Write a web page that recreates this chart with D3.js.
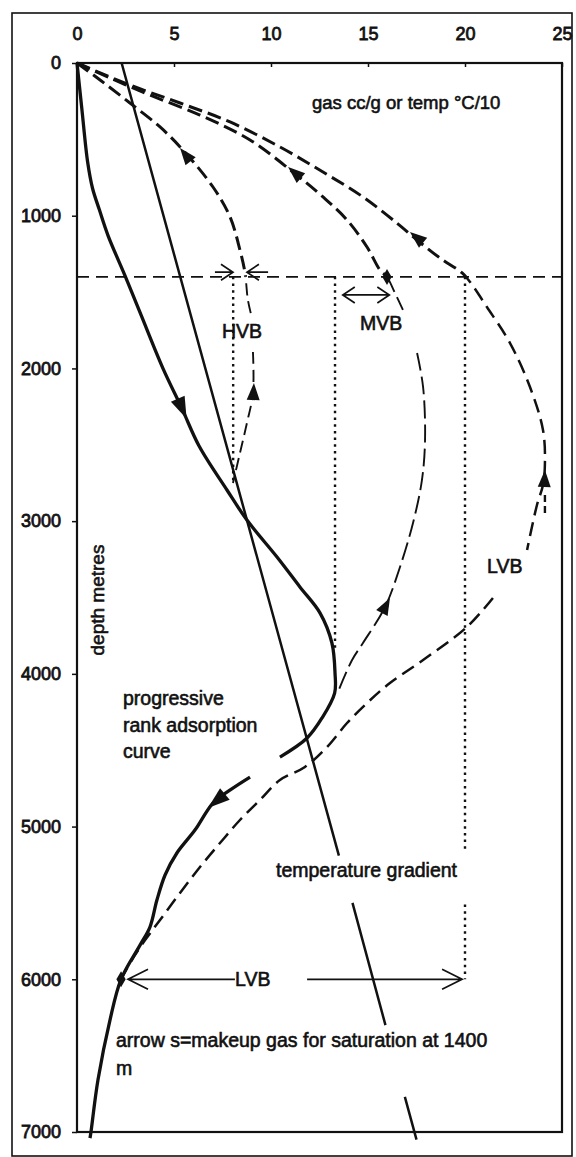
<!DOCTYPE html>
<html><head><meta charset="utf-8">
<script src="https://cdn.jsdelivr.net/npm/d3@7"></script>
<style>
body{margin:0;background:#fff}
svg{display:block}
text{font-family:"Liberation Sans",Arial,Helvetica,sans-serif;fill:#111}
</style>
</head><body>
<script>
// ---------- data (value = gas cc/g or temp °C/10, depth in metres) ----------
const xTicks = [0, 5, 10, 15, 20, 25];
const yTicks = [0, 1000, 2000, 3000, 4000, 5000, 6000, 7000];

const adsorptionUpper = [[0,0],[0.25,300],[0.55,650],[0.8,820],[1.15,960],[1.6,1130],[2.5,1400],[3.3,1650],[4.43,2000],[5.4,2260],[6.3,2510],[7.73,2796],[8.76,2993],[10.31,3235],[11.49,3431],[12.53,3602],[13.14,3798],[13.30,3995],[13.28,4126],[12.63,4289],[11.86,4420],[10.46,4545]];
const adsorptionLower = [[8.92,4676],[7.9,4760],[7.01,4846],[6.08,5023],[5.15,5173],[4.54,5317],[4.12,5481],[3.76,5658],[3.25,5776],[2.27,6000],[1.70,6267],[1.08,6660],[0.72,7000],[0.67,7040]];

const temperatureGradient = [[2.3,0],[13.5,5190],[null,null],[14.2,5500],[15.9,6300],[null,null],[16.9,6770],[17.5,7050]];

const hvbGas = [[0,0],[1.19,111],[2.73,262],[4.28,419],[5.46,570],[7.01,812],[7.89,1008],[8.40,1225],[8.66,1375],[8.81,1552],[9.02,1670],[null,null],[9.07,1892],[9.07,2161],[8.76,2357],[8.40,2554],[8.04,2750]];
const mvbGas = [[0,0],[1.70,98],[3.76,210],[6.34,341],[8.92,504],[11.13,714],[12.68,877],[13.92,1028],[14.95,1205],[15.62,1356],[15.98,1401],[16.39,1506],[16.80,1617],[null,null],[17.53,1899],[17.84,2122],[17.94,2469],[17.78,2731],[17.32,3012],[16.65,3300],[15.88,3562],[14.74,3798],[14.18,3909],[13.45,4119]];
const lvbGas = [[0,0],[2.73,144],[5.31,262],[7.89,386],[10.46,550],[12.68,714],[14.74,877],[16.49,1048],[17.53,1159],[18.71,1277],[19.85,1375],[20.26,1434],[21.13,1598],[22.32,1834],[23.35,2122],[24.02,2403],[24.12,2619],[24.02,2763],[23.71,2894],[23.20,3189],[null,null],[21.44,3503],[20.10,3693],[17.84,3909],[16.13,4060],[14.95,4191],[13.92,4322],[12.89,4479],[11.75,4610],[10.46,4695],[9.43,4826],[8.40,4957],[7.37,5108],[6.34,5265],[5.31,5435],[4.28,5612],[3.51,5743],[2.89,5861],[2.27,6000]];
const lvbTail = [[24.12,2829],[24.12,2973]];

const saturationDepth = 1400;
// dotted make-up lines: [value, topDepth, bottomDepth]
const makeupLines = [[8.05,1400,2750],[13.3,1400,3830],[20.0,1400,5170],[20.0,5510,6000]];

// filled arrow heads: [tipValue, tipDepth, fromValue, fromDepth]
const gasArrows = [[5.31,556,6.34,720],[10.88,681,12.01,805],[17.16,1107,18.3,1225],[9.12,2096,9.07,2240],[16.13,3503,15.52,3648],[24.12,2665,24.07,2829]];
const adsorptionArrows = [[5.65,2330,5.2,2200],[6.75,4879,7.99,4748]];
// diamonds [value, depth]
const diamonds = [[15.98,1401],[2.27,6000]];
// open-headed span arrows: [fromValue, toValue, depth, headAtFrom, headAtTo]
const spanArrows = [[7.11,8.04,1370,0,1],[9.85,8.76,1370,0,1],[13.7,16.1,1519,1,1],[2.63,8.14,6000,1,0],[11.86,19.85,6000,0,1]];

// ---------- chart ----------
const W = 576, H = 1157;
const x = d3.scaleLinear().domain([0,25]).range([77,562]);
const y = d3.scaleLinear().domain([0,7000]).range([63,1132]);
const ink = "#111";

const svg = d3.select("body").append("svg").attr("width",W).attr("height",H);
svg.append("rect").attr("width",W).attr("height",H).attr("fill","#fff");

const defs = svg.append("defs");
defs.append("clipPath").attr("id","above").append("rect")
  .attr("x",0).attr("y",0).attr("width",W).attr("height",y(saturationDepth));
defs.append("clipPath").attr("id","below").append("rect")
  .attr("x",0).attr("y",y(saturationDepth)).attr("width",W).attr("height",H);

// outer border
svg.append("rect").attr("x",12).attr("y",13).attr("width",560).attr("height",1143)
  .attr("fill","none").attr("stroke",ink).attr("stroke-width",1.6);

// axes
const xAxis = d3.axisTop(x).tickValues(xTicks).tickSizeInner(-4).tickSizeOuter(0).tickPadding(23).tickFormat(d3.format("d"));
const gx = svg.append("g").attr("transform",`translate(0,${y(0)})`).call(xAxis);
gx.select(".domain").remove();
gx.selectAll("line").attr("stroke",ink).attr("stroke-width",1.5);
gx.selectAll("text").attr("font-size",18).attr("fill",ink).attr("stroke",ink).attr("stroke-width",0.8)
  .style("font-family","'Liberation Sans',Arial,sans-serif");

const yAxis = d3.axisLeft(y).tickValues(yTicks).tickSizeInner(5).tickSizeOuter(0).tickPadding(11).tickFormat(d3.format("d"));
const gy = svg.append("g").attr("transform",`translate(${x(0)},0)`).call(yAxis);
gy.select(".domain").remove();
gy.selectAll("line").attr("stroke",ink).attr("stroke-width",1.5);
gy.selectAll("text").attr("font-size",18).attr("fill",ink).attr("stroke",ink).attr("stroke-width",0.8)
  .style("font-family","'Liberation Sans',Arial,sans-serif");

// plot frame
svg.append("rect").attr("x",x(0)).attr("y",y(0)).attr("width",x(25)-x(0)).attr("height",y(7000)-y(0))
  .attr("fill","none").attr("stroke",ink).attr("stroke-width",2.2);

const line = d3.line().defined(d=>d[0]!=null).x(d=>x(d[0])).y(d=>y(d[1])).curve(d3.curveCatmullRom.alpha(0.5));
const straight = d3.line().defined(d=>d[0]!=null).x(d=>x(d[0])).y(d=>y(d[1]));

// horizontal saturation line
svg.append("line").attr("x1",x(0)).attr("x2",x(25)).attr("y1",y(saturationDepth)).attr("y2",y(saturationDepth))
  .attr("stroke",ink).attr("stroke-width",1.8).attr("stroke-dasharray","12,7");

// dotted make-up verticals
svg.selectAll(".dot").data(makeupLines).join("line")
  .attr("x1",d=>x(d[0])).attr("x2",d=>x(d[0])).attr("y1",d=>y(d[1])).attr("y2",d=>y(d[2]))
  .attr("stroke",ink).attr("stroke-width",2.4).attr("stroke-dasharray","2.5,4.2");

// gas curves
function gas(data, upperW, lowerW, lowerDash){
  svg.append("path").datum(data).attr("d",line).attr("fill","none").attr("stroke",ink)
    .attr("stroke-width",upperW).attr("stroke-dasharray","14,6").attr("clip-path","url(#above)");
  svg.append("path").datum(data).attr("d",line).attr("fill","none").attr("stroke",ink)
    .attr("stroke-width",lowerW).attr("stroke-dasharray",lowerDash).attr("clip-path","url(#below)");
}
gas(hvbGas, 3, 1.9, "12,6");
gas(mvbGas, 3, 1.9, "18,6");
gas(lvbGas, 3, 2.5, "14,7");
svg.append("path").datum(lvbTail).attr("d",straight).attr("fill","none").attr("stroke",ink)
  .attr("stroke-width",2.4).attr("stroke-dasharray","7,4");

// temperature gradient
svg.append("path").datum(temperatureGradient).attr("d",straight).attr("fill","none")
  .attr("stroke",ink).attr("stroke-width",2.5);

// adsorption curve
[adsorptionUpper, adsorptionLower].forEach(seg=>{
  svg.append("path").datum(seg).attr("d",line).attr("fill","none").attr("stroke",ink)
    .attr("stroke-width",3.3).attr("stroke-linejoin","round");
});

// arrow heads
function tri(a, len, wid){
  const tx=x(a[0]), ty=y(a[1]), fx=x(a[2]), fy=y(a[3]);
  const ang=Math.atan2(ty-fy, tx-fx);
  const bx=tx-len*Math.cos(ang), by=ty-len*Math.sin(ang);
  const px=-Math.sin(ang)*wid/2, py=Math.cos(ang)*wid/2;
  return `M${tx},${ty}L${bx+px},${by+py}L${bx-px},${by-py}Z`;
}
svg.selectAll(".ga").data(gasArrows).join("path").attr("d",d=>tri(d,17,13)).attr("fill",ink);
svg.selectAll(".aa").data(adsorptionArrows).join("path").attr("d",d=>tri(d,22,15)).attr("fill",ink);

// diamonds
svg.selectAll(".dm").data(diamonds).join("path")
  .attr("d",d3.symbol(d3.symbolDiamond,75)).attr("transform",d=>`translate(${x(d[0])},${y(d[1])})`).attr("fill",ink);

// span arrows with open heads
function openHead(px, py, dir, len, spread){
  return `M${px-dir*len},${py-spread}L${px},${py}L${px-dir*len},${py+spread}`;
}
spanArrows.forEach(s=>{
  const x1=x(s[0]), x2=x(s[1]), yy=y(s[2]);
  const big = s[2]>=5000;
  const len = big?20:12, spread = big?10:8;
  let d=`M${x1},${yy}L${x2},${yy}`;
  const dir = x2>x1?1:-1;
  if(s[4]) d+=openHead(x2,yy,dir,len,spread);
  if(s[3]) d+=openHead(x1,yy,-dir,len,spread);
  svg.append("path").attr("d",d).attr("fill","none").attr("stroke",ink).attr("stroke-width",1.7);
});

// labels
function label(t, lx, ly, size){
  return svg.append("text").attr("x",lx).attr("y",ly).attr("font-size",size)
    .attr("stroke",ink).attr("stroke-width",0.6).text(t);
}
label("gas cc/g or temp °C/10", 312, 109, 18.5);
label("HVB", 222, 338, 19.5);
label("MVB", 360, 330, 19.5);
label("LVB", 487, 573, 19.5);
label("LVB", 235, 986, 19.5);
label("progressive", 123, 705, 19.5);
label("rank adsorption", 123, 732, 19.5);
label("curve", 123, 758, 19.5);
label("temperature gradient", 276, 877, 19.5);
label("arrow s=makeup gas for saturation at 1400", 116, 1047, 19.5);
label("m", 116, 1075, 19.5);
svg.append("text").attr("transform","translate(104,600) rotate(-90)").attr("text-anchor","middle")
  .attr("font-size",19).attr("stroke",ink).attr("stroke-width",0.6).text("depth metres");
</script>
</body></html>
